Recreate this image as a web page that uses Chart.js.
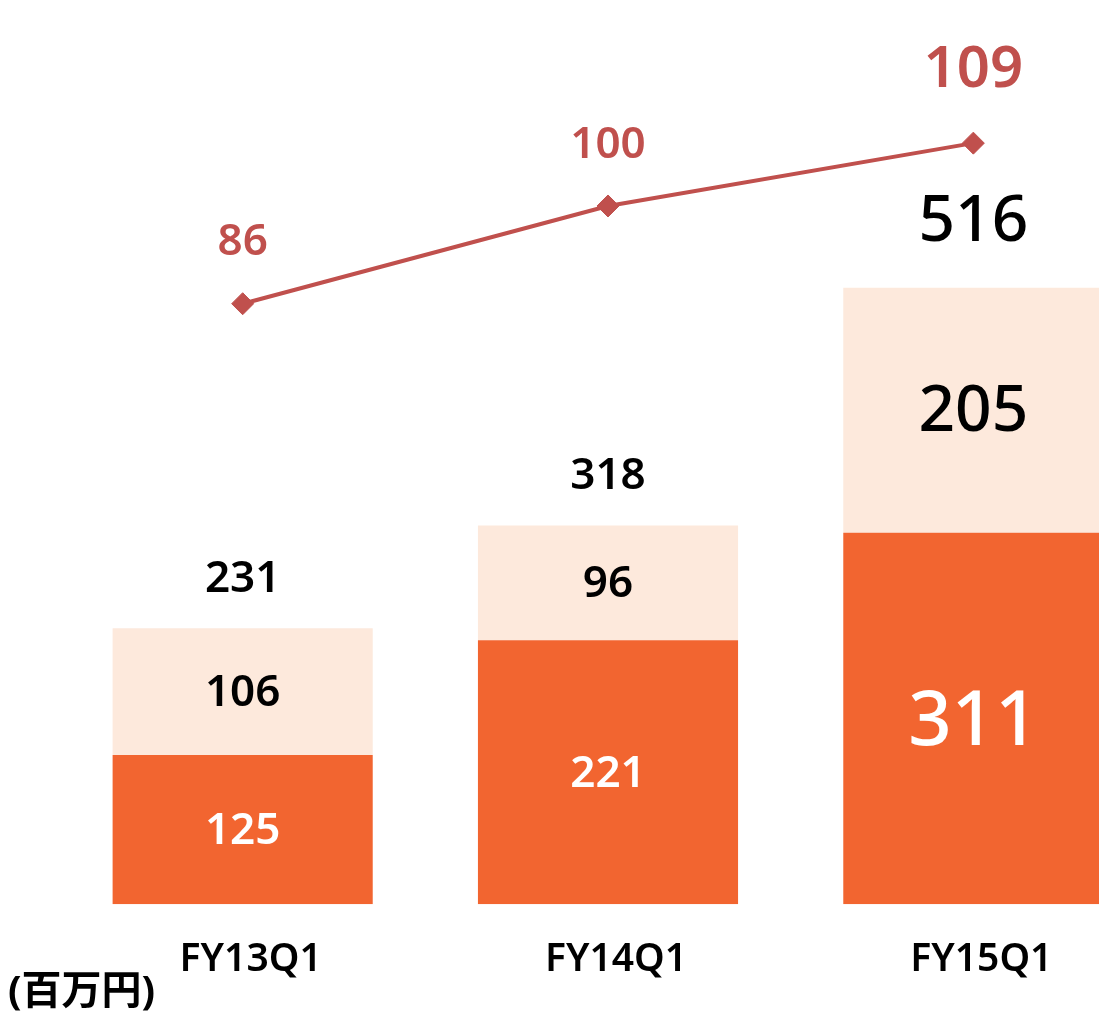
<!DOCTYPE html>
<html>
<head>
<meta charset="utf-8">
<script src="https://cdn.jsdelivr.net/npm/chart.js@4"></script>
<style>
  html, body { margin: 0; padding: 0; background: #fff; overflow: hidden; }
  #wrap { position: relative; width: 1160px; height: 1011px; }
</style>
</head>
<body>
<div id="wrap"><canvas id="salesChart"></canvas></div>
<script>
// quarters shown on the x axis
let quarters = ["FY13Q1", "FY14Q1", "FY15Q1"];

// lower (dark orange) and upper (light) bar segments, in millions of yen
let lowerValues = [125, 221, 311];
let upperValues = [106, 96, 205];

// totals printed above each bar
let totalValues = [231, 318, 516];

// red line values (right-hand scale)
let lineValues = [86, 100, 109];

let unitLabel = "(百万円)";

let fontFamily = "'Noto Sans', 'Noto Sans CJK JP', sans-serif";

// draws the numbers on the bars / line and the unit label
let labelPlugin = {
  id: "valueLabels",
  afterDatasetsDraw: function (chart) {
    let ctx = chart.ctx;
    let yScale = chart.scales.y;
    let y2Scale = chart.scales.y2;
    let lowerMeta = chart.getDatasetMeta(1);
    let lineMeta = chart.getDatasetMeta(0);

    ctx.save();
    ctx.textAlign = "center";
    ctx.textBaseline = "middle";

    quarters.forEach(function (q, i) {
      let big = i === quarters.length - 1;
      let x = lowerMeta.data[i].x;
      let base = yScale.getPixelForValue(0);
      let mid = yScale.getPixelForValue(lowerValues[i]);
      let top = yScale.getPixelForValue(lowerValues[i] + upperValues[i]);
      // the latest quarter is printed larger and lighter
      let weight = big ? "500 " : "600 ";

      // lower segment
      ctx.fillStyle = "#ffffff";
      ctx.font = weight + (big ? 76 : 44) + "px " + fontFamily;
      ctx.fillText(String(lowerValues[i]), x, (base + mid) / 2 + (big ? 5 : 2));

      // upper segment
      ctx.fillStyle = "#000000";
      ctx.font = weight + (big ? 64 : 44) + "px " + fontFamily;
      ctx.fillText(String(upperValues[i]), x, (mid + top) / 2 + 2);

      // total above the bar
      ctx.fillText(String(totalValues[i]), x, top - (big ? 65 : 49));

      // line value above the point
      let pt = lineMeta.data[i];
      ctx.fillStyle = "#c0504d";
      ctx.font = "600 " + (big ? 58 : 44) + "px " + fontFamily;
      ctx.fillText(String(lineValues[i]), pt.x, y2Scale.getPixelForValue(lineValues[i]) - (big ? 73 : 61));
    });

    // unit label, bottom left
    ctx.fillStyle = "#000000";
    ctx.textAlign = "left";
    ctx.font = "bold 40px " + fontFamily;
    ctx.fillText(unitLabel, 8, 993);
    ctx.restore();
  },
};

let canvas = document.querySelector("#salesChart");
let context = canvas.getContext("2d");

let salesChart = new Chart(context, {
  type: "bar",
  data: {
    labels: quarters,
    datasets: [
      {
        type: "line",
        data: lineValues,
        yAxisID: "y2",
        borderColor: "#c0504d",
        backgroundColor: "#c0504d",
        borderWidth: 4,
        pointStyle: "rectRot",
        pointRadius: 11,
        pointBorderWidth: 1,
        tension: 0,
        order: 0,
      },
      {
        data: lowerValues,
        backgroundColor: "#f26530",
        stack: "s",
        order: 1,
      },
      {
        data: upperValues,
        backgroundColor: "#fde9dc",
        stack: "s",
        order: 1,
      },
    ],
  },
  options: {
    responsive: true,
    maintainAspectRatio: false,
    animation: false,
    layout: { autoPadding: false, padding: { left: 60, right: 4, top: 0, bottom: -4 } },
    datasets: {
      bar: { categoryPercentage: 1, barPercentage: 0.712 },
    },
    plugins: {
      legend: { display: false },
      tooltip: { enabled: false },
    },
    scales: {
      x: {
        stacked: true,
        grid: { display: false, drawTicks: false },
        border: { display: false },
        ticks: {
          color: "#000000",
          padding: 32,
          labelOffset: 8,
          font: { family: fontFamily, size: 39, weight: "600" },
        },
      },
      y: {
        stacked: true,
        display: false,
        min: 0,
        max: 757,
      },
      y2: {
        display: false,
        min: 0,
        max: 129.5,
      },
    },
  },
  plugins: [labelPlugin],
});
</script>
</body>
</html>
